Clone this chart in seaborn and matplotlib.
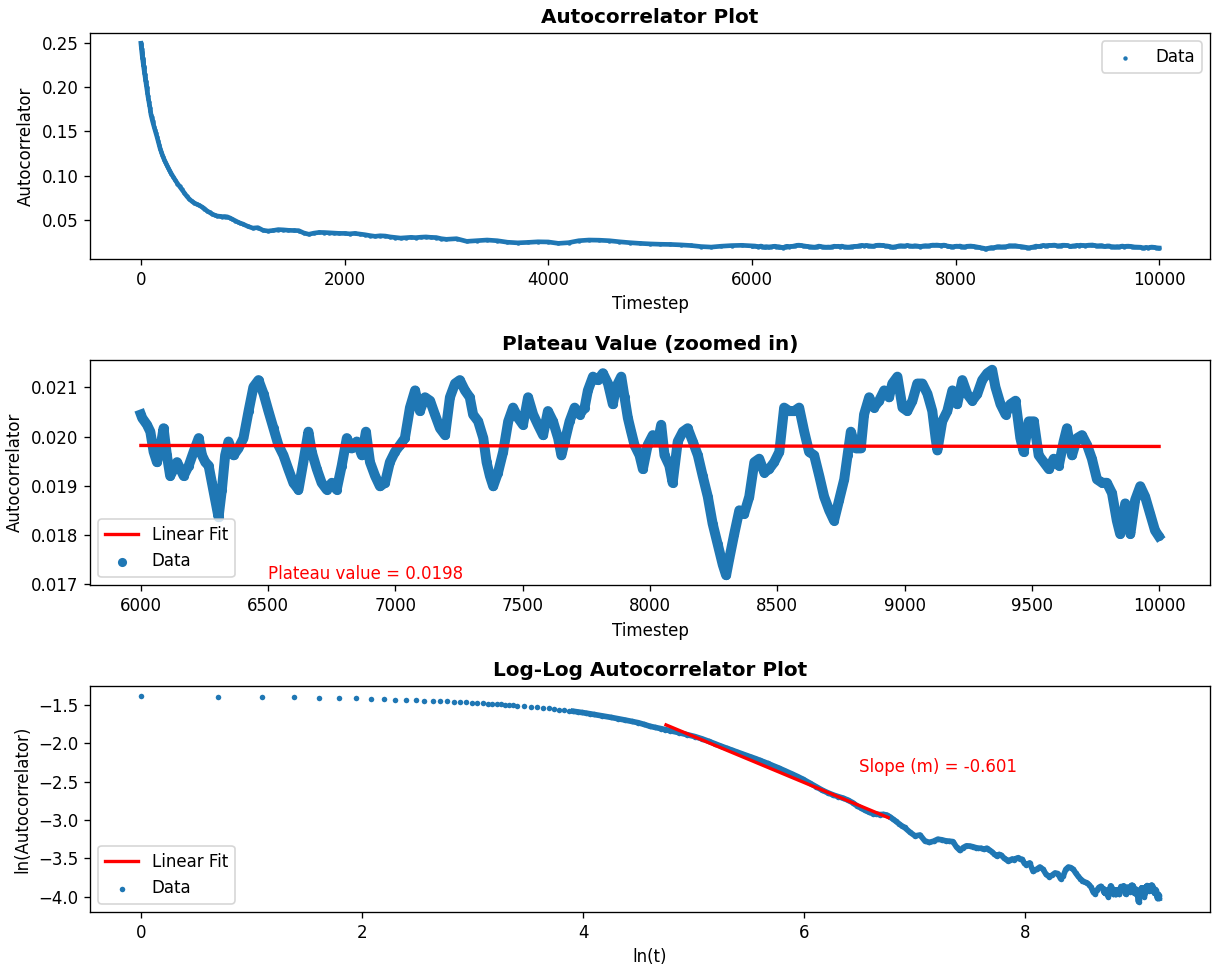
import numpy as np
import pandas as pd
import matplotlib
matplotlib.use("Agg")
import matplotlib.pyplot as plt
import seaborn as sns

# ---------------- data ----------------
early_t = list(range(1, 31)) + list(range(32, 61, 2)) + [65, 70, 75, 80, 85, 90, 95, 100, 105, 110, 115, 120, 130, 140, 150,
           160, 170, 180, 190, 200, 210, 220, 230, 240, 250, 260, 270, 280, 290, 300,
           320, 340, 360, 380, 400, 425, 450, 475, 500, 525, 550, 575, 600, 625, 650, 675,
           700, 725, 750, 775, 800, 825, 850, 875, 900, 925, 950, 975, 1000]
early_value = [0.2498, 0.2488, 0.2476, 0.2466, 0.2454, 0.2440, 0.2428, 0.2416, 0.2404, 0.2393,
               0.2382, 0.2373, 0.2363, 0.2354, 0.2344, 0.2335, 0.2326, 0.2316, 0.2307, 0.2298,
               0.2289, 0.2281, 0.2272, 0.2264, 0.2255, 0.2247, 0.2238, 0.2230, 0.2222, 0.2214,
               0.2198, 0.2182, 0.2166, 0.2150, 0.2135, 0.2119, 0.2103, 0.2087, 0.2071, 0.2055,
               0.2039, 0.2023, 0.2007, 0.1990, 0.1973,
               0.1935, 0.1900, 0.1865, 0.1832, 0.1800, 0.1770, 0.1730, 0.1690, 0.1665, 0.1640,
               0.1618, 0.1596, 0.1555, 0.1515, 0.1478,
               0.1435, 0.1390, 0.1345, 0.1305, 0.1270, 0.1238, 0.1208, 0.1180, 0.1155, 0.1130,
               0.1108, 0.1085, 0.1063, 0.1042, 0.1020,
               0.0982, 0.0945, 0.0910, 0.0878, 0.0846, 0.0805, 0.0768, 0.0735, 0.0710, 0.0690,
               0.0675, 0.0662, 0.0645, 0.0625, 0.0600, 0.0582,
               0.0565, 0.0552, 0.0542, 0.0538, 0.0535, 0.0536, 0.0532, 0.0520, 0.0505, 0.0490,
               0.0475, 0.0462, 0.0452]

tail_t = list(range(1050, 3001, 50)) + list(range(3100, 5901, 100))
tail_value = [0.0425, 0.0405, 0.0410, 0.0380, 0.0372, 0.0378, 0.0388, 0.0385, 0.0380, 0.0378,
              0.0376, 0.0350, 0.0335, 0.0348, 0.0356, 0.0355, 0.0352, 0.0348, 0.0345, 0.0345,
              0.0340, 0.0345, 0.0338, 0.0330, 0.0320, 0.0312, 0.0318, 0.0315, 0.0305, 0.0298,
              0.0292, 0.0296, 0.0300, 0.0297, 0.0302, 0.0305, 0.0300, 0.0298, 0.0285, 0.0278,
              0.0285, 0.0255, 0.0262, 0.0270, 0.0262, 0.0245, 0.0238, 0.0243, 0.0250, 0.0248,
              0.0232, 0.0240, 0.0262, 0.0270, 0.0268, 0.0262, 0.0250, 0.0240, 0.0232, 0.0226,
              0.0222, 0.0220, 0.0215, 0.0208, 0.0196, 0.0190, 0.0200, 0.0207, 0.0210]

plateau_t = [6000, 6005, 6024, 6037, 6050, 6063, 6076, 6089, 6102, 6115, 6129, 6142, 6155, 6168, 6188,
             6207, 6227, 6240, 6253, 6266, 6279, 6292, 6305, 6318, 6331, 6344, 6364, 6383, 6403,
             6423, 6442, 6462, 6482, 6501, 6521, 6540, 6560, 6579, 6599, 6619, 6638, 6658, 6671,
             6691, 6710, 6730, 6750, 6769, 6789, 6809, 6828, 6848, 6868, 6884, 6900, 6920, 6939,
             6959, 6978, 6998, 7018, 7037, 7057, 7077, 7096, 7116, 7136, 7155, 7175, 7195, 7214,
             7234, 7253, 7273, 7292, 7305, 7325, 7345, 7358, 7371, 7384, 7403, 7423, 7443, 7462,
             7482, 7501, 7521, 7541, 7560, 7580, 7599, 7619, 7639, 7652, 7665, 7684, 7704, 7724,
             7743, 7756, 7776, 7795, 7815, 7835, 7854, 7867, 7887, 7900, 7913, 7926, 7939, 7959,
             7972, 7991, 8011, 8031, 8044, 8057, 8076, 8089, 8109, 8129, 8148, 8168, 8188, 8207,
             8227, 8246, 8266, 8286, 8299, 8312, 8331, 8351, 8370, 8390, 8410, 8429, 8449, 8468,
             8488, 8508, 8527, 8547, 8567, 8586, 8606, 8625, 8645, 8665, 8684, 8704, 8723, 8743,
             8763, 8776, 8789, 8809, 8828, 8841, 8861, 8880, 8900, 8920, 8939, 8952, 8972, 8992,
             9011, 9031, 9050, 9070, 9090, 9109, 9122, 9129, 9148, 9168, 9188, 9207, 9227, 9246,
             9266, 9286, 9305, 9325, 9344, 9357, 9377, 9397, 9416, 9436, 9455, 9468, 9488, 9508,
             9527, 9547, 9567, 9586, 9606, 9625, 9638, 9658, 9678, 9697, 9717, 9736, 9756, 9776,
             9795, 9815, 9834, 9847, 9867, 9887, 9906, 9926, 9945, 9965, 9984, 9998]
plateau_value = [0.02045, 0.02038, 0.02024, 0.02010, 0.01969, 0.01948, 0.01976, 0.02017, 0.01962, 0.01920,
                 0.01934, 0.01948, 0.01934, 0.01920, 0.01941, 0.01969, 0.01997, 0.01962, 0.01948, 0.01941,
                 0.01906, 0.01871, 0.01836, 0.01892, 0.01962, 0.01990, 0.01962, 0.01976, 0.01997, 0.02052,
                 0.02101, 0.02115, 0.02087, 0.02052, 0.02017, 0.01983, 0.01962, 0.01934, 0.01906, 0.01892,
                 0.01948, 0.02010, 0.01969, 0.01934, 0.01906, 0.01892, 0.01906, 0.01892, 0.01941, 0.01997,
                 0.01976, 0.01990, 0.01962, 0.02010, 0.01948, 0.01920, 0.01899, 0.01906, 0.01948, 0.01969,
                 0.01983, 0.01997, 0.02059, 0.02094, 0.02052, 0.02080, 0.02073, 0.02045, 0.02017, 0.02003,
                 0.02080, 0.02108, 0.02115, 0.02094, 0.02080, 0.02045, 0.02031, 0.01997, 0.01948, 0.01920,
                 0.01899, 0.01927, 0.01969, 0.02031, 0.02059, 0.02038, 0.02024, 0.02080, 0.02045, 0.02024,
                 0.02003, 0.02052, 0.02031, 0.01997, 0.01962, 0.01990, 0.02031, 0.02059, 0.02045, 0.02059,
                 0.02094, 0.02122, 0.02115, 0.02129, 0.02108, 0.02066, 0.02101, 0.02122, 0.02080, 0.02038,
                 0.02010, 0.01983, 0.01962, 0.01934, 0.01983, 0.02003, 0.01990, 0.02024, 0.01962, 0.01941,
                 0.01906, 0.01990, 0.02010, 0.02017, 0.01990, 0.01962, 0.01920, 0.01878, 0.01823, 0.01781,
                 0.01739, 0.01718, 0.01753, 0.01802, 0.01850, 0.01843, 0.01878, 0.01948, 0.01955, 0.01927,
                 0.01934, 0.01948, 0.01969, 0.02059, 0.02052, 0.02052, 0.02059, 0.02010, 0.01969, 0.01962,
                 0.01920, 0.01878, 0.01850, 0.01829, 0.01871, 0.01913, 0.01962, 0.02010, 0.01976, 0.01976,
                 0.02045, 0.02080, 0.02059, 0.02073, 0.02094, 0.02080, 0.02108, 0.02122, 0.02059, 0.02052,
                 0.02073, 0.02108, 0.02108, 0.02087, 0.02052, 0.01997, 0.01972, 0.02031, 0.02052, 0.02094,
                 0.02066, 0.02115, 0.02087, 0.02073, 0.02087, 0.02115, 0.02129, 0.02136, 0.02101, 0.02066,
                 0.02045, 0.02066, 0.02073, 0.01997, 0.01969, 0.02031, 0.02031, 0.01962, 0.01948, 0.01934,
                 0.01955, 0.01941, 0.01990, 0.02017, 0.01962, 0.01997, 0.02003, 0.01983, 0.01955, 0.01913,
                 0.01906, 0.01906, 0.01885, 0.01829, 0.01802, 0.01864, 0.01802, 0.01871, 0.01899, 0.01878,
                 0.01843, 0.01809, 0.01798]

plateau_fit_t = [6000, 10000]
plateau_fit_value = [0.01982, 0.01980]
plateau_label = "Plateau value = 0.0198"

loglog_fit_lnt = [4.75, 6.76]
loglog_slope = -0.601
loglog_intercept = 1.095
slope_label = "Slope (m) = -0.601"

# ---------------- build tables ----------------
blue = "#1f77b4"
full = pd.DataFrame({"t": early_t + tail_t + plateau_t,
                     "A": early_value + tail_value + plateau_value})
plateau = pd.DataFrame({"t": plateau_t, "A": plateau_value})
plateau_fit = pd.DataFrame({"t": plateau_fit_t, "A": plateau_fit_value})
loglog = pd.DataFrame({"lnt": np.log(full["t"]), "lnA": np.log(full["A"]), "t": full["t"]})
loglog_fit = pd.DataFrame({"lnt": loglog_fit_lnt})
loglog_fit["lnA"] = loglog_intercept + loglog_slope * loglog_fit["lnt"]

plt.rcParams["font.family"] = ["DejaVu Sans"]
fig, axes = plt.subplots(3, 1, figsize=(1214 / 120, 967 / 120), dpi=120)
fig.subplots_adjust(left=90 / 1214, right=1210 / 1214, top=1 - 33 / 967,
                    bottom=1 - 912 / 967, hspace=0.445)

# ---- top panel ----
ax = axes[0]
sns.lineplot(data=full, x="t", y="A", ax=ax, color=blue, linewidth=2.8,
             estimator=None, zorder=1, legend=False)
sns.scatterplot(data=full, x="t", y="A", ax=ax, color=blue, s=7, linewidth=0,
                zorder=2, label="Data")
h, l = ax.get_legend_handles_labels()
hd = [hh for hh, ll in zip(h, l) if ll == "Data"]
ax.legend(hd, ["Data"], loc="upper right")
ax.set_title("Autocorrelator Plot", fontweight="bold")
ax.set_xlabel("Timestep")
ax.set_ylabel("Autocorrelator")

# ---- middle panel ----
ax = axes[1]
sns.lineplot(data=plateau, x="t", y="A", ax=ax, color=blue, linewidth=6,
             estimator=None, zorder=1, legend=False)
sns.scatterplot(data=plateau, x="t", y="A", ax=ax, color=blue, s=30, linewidth=0,
                zorder=2, label="Data")
sns.lineplot(data=plateau_fit, x="t", y="A", ax=ax, color="red", linewidth=2,
             estimator=None, zorder=3, label="Linear Fit")
h, l = ax.get_legend_handles_labels()
d = dict(zip(l, h))
ax.legend([d["Linear Fit"], d["Data"]], ["Linear Fit", "Data"], loc="lower left")
ax.text(6500, 0.0171, plateau_label, color="red", fontsize=10)
ax.set_title("Plateau Value (zoomed in)", fontweight="bold")
ax.set_xlabel("Timestep")
ax.set_ylabel("Autocorrelator")

# ---- bottom panel ----
ax = axes[2]
sns.lineplot(data=loglog[loglog["t"] >= 50], x="lnt", y="lnA", ax=ax, color=blue,
             linewidth=3.4, estimator=None, zorder=1, legend=False)
sns.scatterplot(data=loglog, x="lnt", y="lnA", ax=ax, color=blue, s=11, linewidth=0,
                zorder=2, label="Data")
sns.lineplot(data=loglog_fit, x="lnt", y="lnA", ax=ax, color="red", linewidth=2,
             estimator=None, zorder=3, label="Linear Fit")
h, l = ax.get_legend_handles_labels()
d = dict(zip(l, h))
ax.legend([d["Linear Fit"], d["Data"]], ["Linear Fit", "Data"], loc="lower left")
ax.text(6.5, -2.37, slope_label, color="red", fontsize=10)
ax.set_title("Log-Log Autocorrelator Plot", fontweight="bold")
ax.set_xlabel("ln(t)")
ax.set_ylabel("ln(Autocorrelator)")

fig.savefig("out.png", dpi=120)
